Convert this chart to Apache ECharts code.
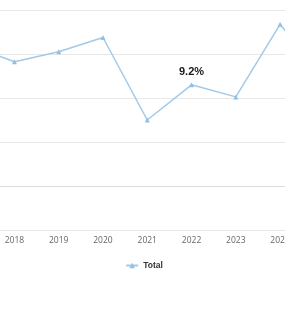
<!DOCTYPE html>
<html>
<head>
<meta charset="utf-8">
<script src="https://cdn.jsdelivr.net/npm/echarts@6/dist/echarts.min.js"></script>
<style>
  html, body { margin: 0; padding: 0; width: 285px; height: 335px; overflow: hidden; background: #fff; }
  #chart { position: absolute; left: -81px; top: 0; width: 450px; height: 335px; }
</style>
</head>
<body>
<div id="chart"></div>
<script>
const years = ['2017', '2018', '2019', '2020', '2021', '2022', '2023', '2024', '2025'];
const totalValues = [12.8, 11.3, 12.2, 13.5, 6.0, 9.2, 8.1, 14.7, 9.6];
const labelledYear = '2022';
const yTicks = [-4, 0, 4, 8, 12, 16];

const chart = echarts.init(document.getElementById('chart'), null, { renderer: 'canvas' });
const seriesData = totalValues.map((v, i) => {
  const item = { value: v };
  if (years[i] === labelledYear) {
    item.label = {
      show: true, position: 'top', distance: 5,
      formatter: (p) => p.value.toFixed(1) + '%',
      fontSize: 11, fontWeight: 'bold', color: '#1a1a1a', fontFamily: 'Liberation Sans, Arial, sans-serif'
    };
  }
  return item;
});

chart.setOption({
  animation: false,
  backgroundColor: '#fff',
  grid: { left: 22.5, right: 22.5, top: 10, bottom: 105, containLabel: false },
  legend: {
    data: ['Total'], left: 'center', top: 256,
    itemWidth: 12, itemHeight: 7, itemGap: 10,
    textStyle: { fontSize: 8.5, fontWeight: 'bold', color: '#333', fontFamily: 'Liberation Sans, Arial, sans-serif' }
  },
  xAxis: {
    type: 'category', data: years, boundaryGap: true,
    axisLine: { show: true, lineStyle: { color: '#dcdcdc', width: 1 } },
    axisTick: { show: false },
    axisLabel: { color: '#666', fontSize: 8.5, margin: 6, fontFamily: 'Open Sans, sans-serif' },
    splitLine: { show: false }
  },
  yAxis: {
    type: 'value', min: yTicks[0], max: yTicks[yTicks.length - 1], interval: yTicks[1] - yTicks[0],
    axisLine: { show: false }, axisTick: { show: false },
    axisLabel: { show: true, formatter: '{value}%', color: '#666', fontSize: 9 },
    splitLine: { show: true, lineStyle: { color: '#e8e8e8', width: 1 } }
  },
  series: [{
    name: 'Total', type: 'line', data: seriesData,
    symbol: 'triangle', symbolSize: 5, showSymbol: true,
    lineStyle: { color: '#a2c9e8', width: 1.5 },
    itemStyle: { color: '#92bfe3' },
    label: { show: false }
  }]
});
</script>
</body>
</html>
